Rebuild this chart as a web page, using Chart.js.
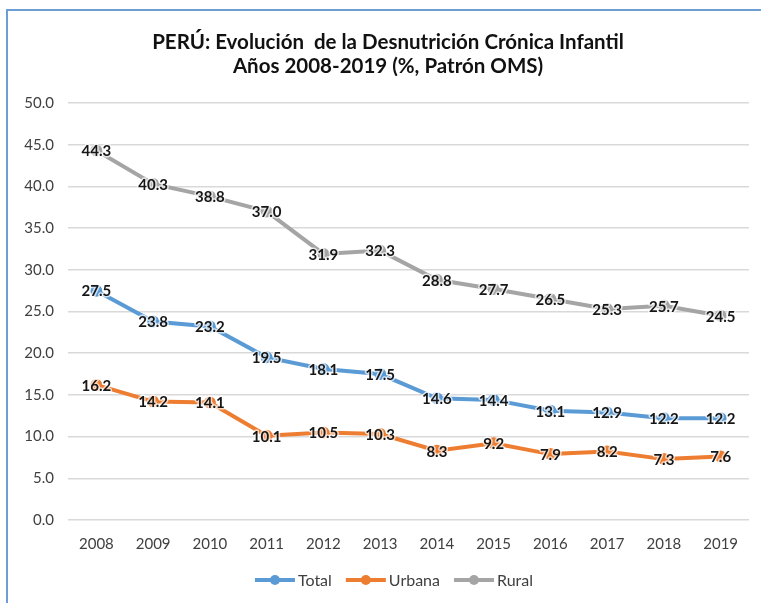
<!DOCTYPE html>
<html>
<head>
<meta charset="utf-8">
<script src="https://cdn.jsdelivr.net/npm/chart.js@4"></script>
<style>
  html, body { margin: 0; padding: 0; background: #fff; }
  #wrap { width: 761px; height: 603px; position: relative; }
</style>
</head>
<body>
<div id="wrap"><canvas id="chart" width="761" height="603"></canvas></div>
<script>
// datos
const years = ["2008","2009","2010","2011","2012","2013","2014","2015","2016","2017","2018","2019"];
const total  = [27.5, 23.8, 23.2, 19.5, 18.1, 17.5, 14.6, 14.4, 13.1, 12.9, 12.2, 12.2];
const urbana = [16.2, 14.2, 14.1, 10.1, 10.5, 10.3, 8.3, 9.2, 7.9, 8.2, 7.3, 7.6];
const rural  = [44.3, 40.3, 38.8, 37.0, 31.9, 32.3, 28.8, 27.7, 26.5, 25.3, 25.7, 24.5];
const seriesNames = ["Total", "Urbana", "Rural"];
const colors = ["#5b9bd5", "#ed7d31", "#a5a5a5"];
const titleLines = ["PERÚ: Evolución  de la Desnutrición Crónica Infantil", "Años 2008-2019 (%, Patrón OMS)"];

const FONT = "Lato, 'Open Sans', sans-serif";

// marco azul (arriba e izquierda) + titulo
const framePlugin = {
  id: 'frame',
  beforeDraw(chart) {
    const ctx = chart.ctx;
    ctx.save();
    ctx.fillStyle = '#fff';
    ctx.fillRect(0, 0, chart.width, chart.height);
    ctx.strokeStyle = '#6d9ed6';
    ctx.lineWidth = 2;
    ctx.beginPath();
    ctx.moveTo(7, chart.height);
    ctx.lineTo(7, 10);
    ctx.lineTo(chart.width, 10);
    ctx.stroke();
    // titulo
    ctx.font = "bold 20.5px " + FONT;
    ctx.fillStyle = '#111';
    ctx.textAlign = 'center';
    ctx.textBaseline = 'middle';
    titleLines.forEach((t, i) => ctx.fillText(t, 388, 42 + i * 24));
    ctx.restore();
  }
};

// etiquetas de datos centradas en el punto
const labelPlugin = {
  id: 'valueLabels',
  afterDatasetsDraw(chart) {
    const ctx = chart.ctx;
    ctx.save();
    ctx.font = "bold 15px " + FONT;
    ctx.textAlign = 'center';
    ctx.textBaseline = 'middle';
    ctx.lineJoin = 'round';
    chart.data.datasets.forEach((ds, i) => {
      chart.getDatasetMeta(i).data.forEach((pt, j) => {
        const txt = ds.data[j].toFixed(1);
        ctx.lineWidth = 3;
        ctx.strokeStyle = 'rgba(255,255,255,0.7)';
        ctx.strokeText(txt, pt.x, pt.y + 1);
        ctx.fillStyle = '#161616';
        ctx.fillText(txt, pt.x, pt.y + 1);
      });
    });
    ctx.restore();
  }
};

// leyenda abajo: linea con circulo + texto
const legendPlugin = {
  id: 'lineLegend',
  afterDraw(chart) {
    const ctx = chart.ctx;
    const iconW = 40, gap = 3, itemGap = 14, cy = 580;
    ctx.save();
    ctx.font = "16px " + FONT;
    ctx.textBaseline = 'middle';
    const widths = seriesNames.map(n => iconW + gap + ctx.measureText(n).width);
    const full = widths.reduce((a, b) => a + b, 0) + itemGap * (seriesNames.length - 1);
    let x = 394 - full / 2;
    seriesNames.forEach((name, i) => {
      ctx.strokeStyle = colors[i];
      ctx.lineWidth = 4;
      ctx.beginPath(); ctx.moveTo(x, cy); ctx.lineTo(x + iconW, cy); ctx.stroke();
      ctx.fillStyle = colors[i];
      ctx.beginPath(); ctx.arc(x + iconW / 2, cy, 5, 0, Math.PI * 2); ctx.fill();
      ctx.fillStyle = '#404040';
      ctx.fillText(name, x + iconW + gap, cy + 1);
      x += widths[i] + itemGap;
    });
    ctx.restore();
  }
};

const datasets = [total, urbana, rural].map((vals, i) => ({
  label: seriesNames[i],
  data: vals,
  borderColor: colors[i],
  backgroundColor: colors[i],
  borderWidth: 4,
  pointRadius: 4,
  pointHoverRadius: 4,
  tension: 0
}));

new Chart(document.getElementById('chart'), {
  type: 'line',
  data: { labels: years, datasets: datasets },
  plugins: [framePlugin, labelPlugin, legendPlugin],
  options: {
    responsive: false,
    animation: false,
    layout: { padding: { left: 0, right: 12, top: 103, bottom: 43 } },
    plugins: {
      title: { display: false },
      legend: { display: false },
      tooltip: { enabled: false }
    },
    scales: {
      x: {
        offset: true,
        grid: { display: false },
        border: { display: false },
        afterFit(scale) { scale.height = 40; },
        ticks: { color: '#404040', font: { family: FONT, size: 15 }, padding: 7 }
      },
      y: {
        min: 0,
        max: 50,
        afterFit(scale) { scale.width = 68; },
        grid: { color: '#d9d9d9', lineWidth: 1.5, drawTicks: false },
        border: { display: false },
        ticks: {
          stepSize: 5,
          color: '#404040',
          font: { family: FONT, size: 15 },
          padding: 14,
          callback: v => v.toFixed(1)
        }
      }
    }
  }
});
</script>
</body>
</html>
